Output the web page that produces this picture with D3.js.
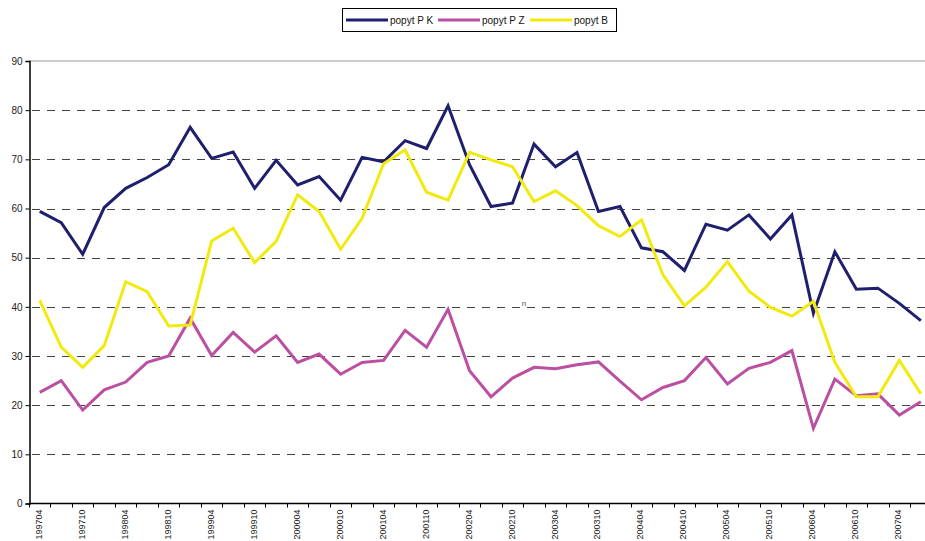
<!DOCTYPE html>
<html><head><meta charset="utf-8">
<script src="https://cdn.jsdelivr.net/npm/d3@7"></script>
<style>body{margin:0;background:#fff}svg{display:block}text{font-family:"Liberation Sans",Arial,sans-serif}</style>
</head><body><svg id="c" width="925" height="541"></svg>
<script>
const categories = ["199704","199707","199710","199801","199804","199807","199810","199901","199904","199907","199910","200001","200004","200007","200010","200101","200104","200107","200110","200201","200204","200207","200210","200301","200304","200307","200310","200401","200404","200407","200410","200501","200504","200507","200510","200601","200604","200607","200610","200701","200704","200707"];
const popytPK = [59.4,57.1,50.7,60.2,64.1,66.3,68.9,76.5,70.2,71.5,64.1,69.8,64.8,66.5,61.7,70.4,69.5,73.8,72.2,80.9,68.9,60.4,61.1,73.1,68.5,71.4,59.4,60.4,52.0,51.2,47.4,56.8,55.6,58.7,53.8,58.7,38.7,51.2,43.6,43.8,40.7,37.2];
const popytPZ = [22.6,25.0,19.0,23.1,24.7,28.7,30.0,37.7,30.1,34.8,30.8,34.1,28.7,30.4,26.3,28.7,29.1,35.2,31.8,39.5,27.0,21.7,25.5,27.7,27.4,28.2,28.8,24.9,21.1,23.6,25.0,29.7,24.3,27.5,28.7,31.1,15.3,25.3,21.9,22.3,18.0,20.7];
const popytB = [41.3,31.8,27.7,32.1,45.1,43.1,36.1,36.3,53.4,56.0,49.0,53.3,62.8,59.4,51.7,58.0,69.1,71.9,63.3,61.7,71.4,69.9,68.5,61.4,63.6,60.6,56.5,54.3,57.7,46.5,40.2,44.0,49.2,43.2,39.9,38.1,41.1,28.7,21.7,21.7,29.1,22.3];
const seriesNames = ["popyt P K","popyt P Z","popyt B"];
const seriesColors = ["#1f1f6e","#bb4fa2","#f2ea0f"];
const yTicks = [0,10,20,30,40,50,60,70,80,90];

const svg = d3.select("#c");
const mLeft = 29, mTop = 61, mBottom = 503.5, step = 21.49;
const x = d3.scaleBand().domain(categories).range([mLeft, mLeft + step*categories.length]).padding(0);
const y = d3.scaleLinear().domain([0,90]).range([mBottom, mTop]);
const W = 925;

// top border
svg.append("line").attr("x1",mLeft).attr("x2",W).attr("y1",y(90)).attr("y2",y(90)).attr("stroke","#999").attr("stroke-width",1);
// grid
svg.append("g").selectAll("line").data(yTicks.filter(d=>d>0&&d<90)).join("line")
  .attr("x1",mLeft+3).attr("x2",W).attr("y1",d=>Math.round(y(d))+0.5).attr("y2",d=>Math.round(y(d))+0.5)
  .attr("stroke","#444").attr("stroke-width",1).attr("stroke-dasharray","8,7");

// y axis
const ya = d3.axisLeft(y).tickValues(yTicks).tickSize(4).tickPadding(3);
const gy = svg.append("g").attr("transform",`translate(${mLeft+0.5},0)`).call(ya);
gy.select(".domain").attr("stroke","#000").attr("stroke-width",1.5);
gy.selectAll(".tick line").attr("stroke","#000");
gy.selectAll("text").attr("font-size",10).attr("fill","#222").attr("font-family","Liberation Sans, Arial, sans-serif");

// x axis
const gx = svg.append("g").attr("transform",`translate(0,${mBottom})`);
gx.append("line").attr("x1",mLeft).attr("x2",W).attr("stroke","#000").attr("stroke-width",1.5);
gx.selectAll(".tk").data(categories.concat(["_end"])).join("line").attr("class","tk")
  .attr("x1",(d,i)=>Math.round(mLeft+i*step)+0.5).attr("x2",(d,i)=>Math.round(mLeft+i*step)+0.5)
  .attr("y1",0).attr("y2",4).attr("stroke","#000");
gx.selectAll("text").data(categories.filter((d,i)=>i%2===0)).join("text")
  .attr("transform",d=>`translate(${x(d)+x.bandwidth()/2+2},6) rotate(-90)`)
  .attr("text-anchor","end").attr("font-size",9).attr("fill","#222").text(d=>d);

// lines
const line = d3.line().x((d,i)=>x(categories[i])+x.bandwidth()/2).y(d=>y(d));
[popytPK,popytPZ,popytB].forEach((s,k)=>{
  svg.append("path").datum(s).attr("d",line).attr("fill","none")
    .attr("stroke",seriesColors[k]).attr("stroke-width",3).attr("stroke-linejoin","miter");
});

// stray label
svg.append("text").attr("x",524).attr("y",306).attr("font-size",8).attr("fill","#555").attr("text-anchor","middle").text("n");

// legend
const lg = svg.append("g");
lg.append("rect").attr("x",342.5).attr("y",8.5).attr("width",274).attr("height",23).attr("fill","#fff").attr("stroke","#000");
const lx = [346,438,530];
seriesNames.forEach((n,k)=>{
  lg.append("line").attr("x1",lx[k]).attr("x2",lx[k]+42).attr("y1",20).attr("y2",20).attr("stroke",seriesColors[k]).attr("stroke-width",3);
  lg.append("text").attr("x",lx[k]+44).attr("y",24).attr("font-size",10).attr("fill","#111").text(n);
});
</script></body></html>
